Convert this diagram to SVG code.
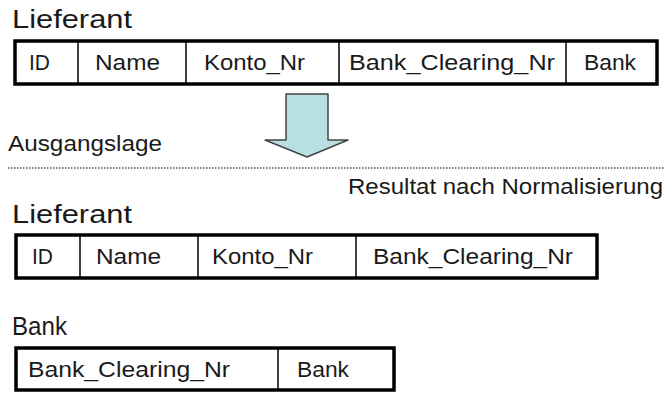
<svg xmlns="http://www.w3.org/2000/svg" width="665" height="394" viewBox="0 0 665 394">
<style>
text{font-family:"Liberation Sans",Arial,sans-serif;fill:#1a1a1a;}
.lbl{font-size:25px;}
.cell{font-size:22px;}
.tbl{fill:#fff;stroke:#000;stroke-width:3.5;}
.div{stroke:#000;stroke-width:1.5;}
</style>
<rect width="665" height="394" fill="#fff"/>
<g id="lieferant-alt">
<text class="lbl" x="12" y="28" textLength="120" lengthAdjust="spacingAndGlyphs">Lieferant</text>
<rect class="tbl" x="15" y="41" width="642" height="43"/>
<line class="div" x1="78" y1="41" x2="78" y2="84"/>
<line class="div" x1="186" y1="41" x2="186" y2="84"/>
<line class="div" x1="339" y1="41" x2="339" y2="84"/>
<line class="div" x1="566" y1="41" x2="566" y2="84"/>
<text class="cell" x="29" y="70" textLength="21" lengthAdjust="spacingAndGlyphs">ID</text>
<text class="cell" x="95" y="70" textLength="65" lengthAdjust="spacingAndGlyphs">Name</text>
<text class="cell" x="204" y="70" textLength="101" lengthAdjust="spacingAndGlyphs">Konto_Nr</text>
<text class="cell" x="349" y="70" textLength="206" lengthAdjust="spacingAndGlyphs">Bank_Clearing_Nr</text>
<text class="cell" x="584" y="70" textLength="52" lengthAdjust="spacingAndGlyphs">Bank</text>
</g>
<g id="arrow">
<path d="M286 94 H328 V140 H348 L307 157 L265 140 H286 Z" fill="#b8dfe1" stroke="#444" stroke-width="1.5" stroke-linejoin="round"/>
</g>
<g id="separator">
<text class="cell" x="8" y="151" textLength="154" lengthAdjust="spacingAndGlyphs">Ausgangslage</text>
<line x1="8" y1="168" x2="665" y2="168" stroke="#555" stroke-width="1.5" stroke-dasharray="1.5,1.5"/>
<text class="cell" x="348" y="194" textLength="315" lengthAdjust="spacingAndGlyphs">Resultat nach Normalisierung</text>
</g>
<g id="lieferant-neu">
<text class="lbl" x="12" y="223" textLength="120" lengthAdjust="spacingAndGlyphs">Lieferant</text>
<rect class="tbl" x="16" y="235" width="581" height="43"/>
<line class="div" x1="80" y1="235" x2="80" y2="278"/>
<line class="div" x1="198" y1="235" x2="198" y2="278"/>
<line class="div" x1="356" y1="235" x2="356" y2="278"/>
<text class="cell" x="32" y="264" textLength="21" lengthAdjust="spacingAndGlyphs">ID</text>
<text class="cell" x="96" y="264" textLength="65" lengthAdjust="spacingAndGlyphs">Name</text>
<text class="cell" x="212" y="264" textLength="101" lengthAdjust="spacingAndGlyphs">Konto_Nr</text>
<text class="cell" x="373" y="264" textLength="200" lengthAdjust="spacingAndGlyphs">Bank_Clearing_Nr</text>
</g>
<g id="bank">
<text class="lbl" x="12" y="335" textLength="55" lengthAdjust="spacingAndGlyphs">Bank</text>
<rect class="tbl" x="16" y="348" width="378" height="42"/>
<line class="div" x1="278" y1="348" x2="278" y2="390"/>
<text class="cell" x="28" y="377" textLength="202" lengthAdjust="spacingAndGlyphs">Bank_Clearing_Nr</text>
<text class="cell" x="297" y="377" textLength="52" lengthAdjust="spacingAndGlyphs">Bank</text>
</g>
</svg>
